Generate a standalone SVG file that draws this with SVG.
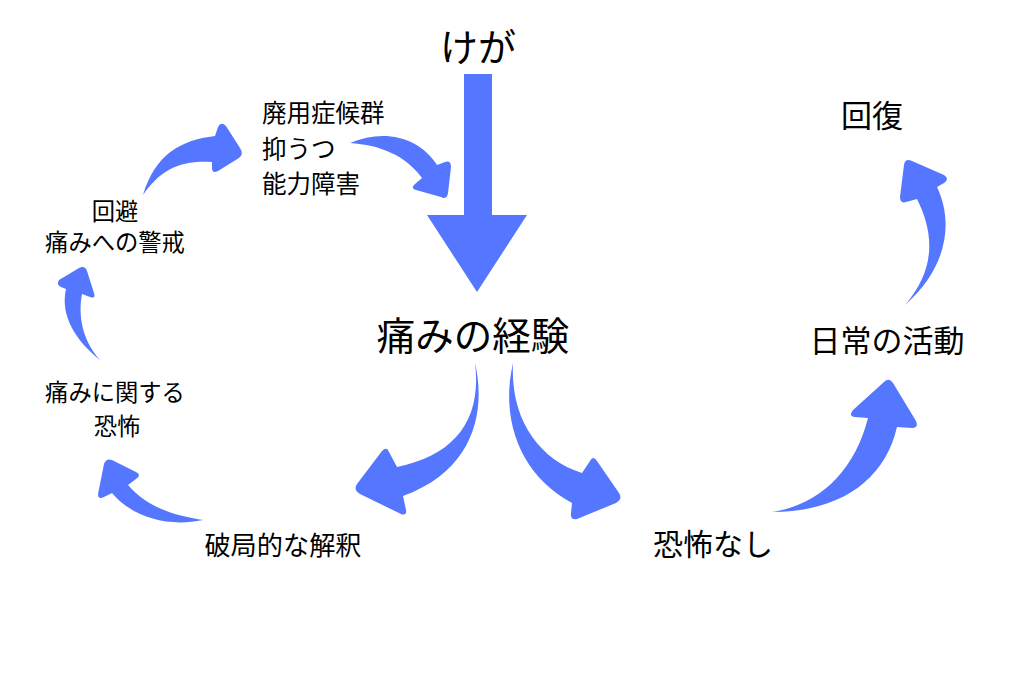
<svg xmlns="http://www.w3.org/2000/svg" width="1024" height="678" viewBox="0 0 1024 678">
<style>
.a{fill:#5577FF;stroke:none}
text{font-family:"Noto Sans CJK JP","Noto Sans",sans-serif;fill:#000}
</style>
<rect width="1024" height="678" fill="#fff"/>
<g id="connectors">
<path class="a" d="M464,74 L492,74 L492,215 L527,215 L477,292 L427,215 L464,215 Z"/>
<path class="a" d="M475,363 C486,410 475,470 403,496 L406,510 Q407,516 401,514 L360,494 Q353,490 357,484 L382,451 Q387,446 389,452 L397,467 C455,455 482,420 475,363 Z"/>
<path class="a" d="M513,363 C500,420 520,475 572,503 L571,513 Q570,520 577,519 L616,503 Q623,499 619,493 L597,461 Q593,455 590,461 L582,473 C540,460 510,420 513,363 Z"/>
<path class="a" d="M143,195 C155,155 180,140 215,136 L218,127 Q221,121 226,126 L240,148 Q244,154 239,158 L218,171 Q212,174 212,168 L212,162 C180,160 160,170 143,195 Z"/>
<path class="a" d="M350,143 C385,128 420,138 437,165 L445,162 Q451,160 451,167 L448,193 Q447,200 441,197 L416,190 Q410,188 415,184 L422,178 C405,155 380,145 350,143 Z"/>
<path class="a" d="M100,360 C75,340 60,315 66,289 L61,287 Q56,285 59,280 L79,268 Q85,265 87,271 L94,293 Q96,299 90,297 L82,294 C78,315 82,340 100,360 Z"/>
<path class="a" d="M203,520 C165,528 130,515 112,493 L104,497 Q98,500 98,494 L104,464 Q106,458 112,460 L136,472 Q142,475 136,479 L128,485 C145,505 170,515 203,520 Z"/>
<path class="a" d="M772,512 C840,512 885,480 897,427 L912,428 Q919,428 916,421 L893,383 Q889,377 884,382 L853,410 Q848,416 855,417 L868,418 C855,470 820,505 772,512 Z"/>
<path class="a" d="M905,305 C945,270 955,225 937,187 L944,183 Q950,179 944,175 L912,161 Q905,158 904,165 L900,197 Q900,204 906,202 L917,199 C935,235 935,270 905,305 Z"/>
</g>
<g id="n-kega"><text x="478" y="61" font-size="38" text-anchor="middle">けが</text></g>
<g id="n-itami"><text x="473" y="350" font-size="38.5" text-anchor="middle">痛みの経験</text></g>
<g id="n-haiyou"><text x="262" y="122" font-size="24.5">廃用症候群</text><text x="262" y="158" font-size="24.5">抑うつ</text><text x="262" y="193" font-size="24.5">能力障害</text></g>
<g id="n-kaihi"><text x="115" y="220" font-size="23.3" text-anchor="middle">回避</text><text x="115" y="251" font-size="23.3" text-anchor="middle">痛みへの警戒</text></g>
<g id="n-kyoufu"><text x="115" y="401" font-size="23.3" text-anchor="middle">痛みに関する</text><text x="117" y="435" font-size="23.3" text-anchor="middle">恐怖</text></g>
<g id="n-hakyoku"><text x="283" y="555" font-size="26.2" text-anchor="middle">破局的な解釈</text></g>
<g id="n-nashi"><text x="713" y="555" font-size="30" text-anchor="middle">恐怖なし</text></g>
<g id="n-nichijou"><text x="887" y="352" font-size="31" text-anchor="middle">日常の活動</text></g>
<g id="n-kaifuku"><text x="872" y="127" font-size="31" text-anchor="middle">回復</text></g>
</svg>
